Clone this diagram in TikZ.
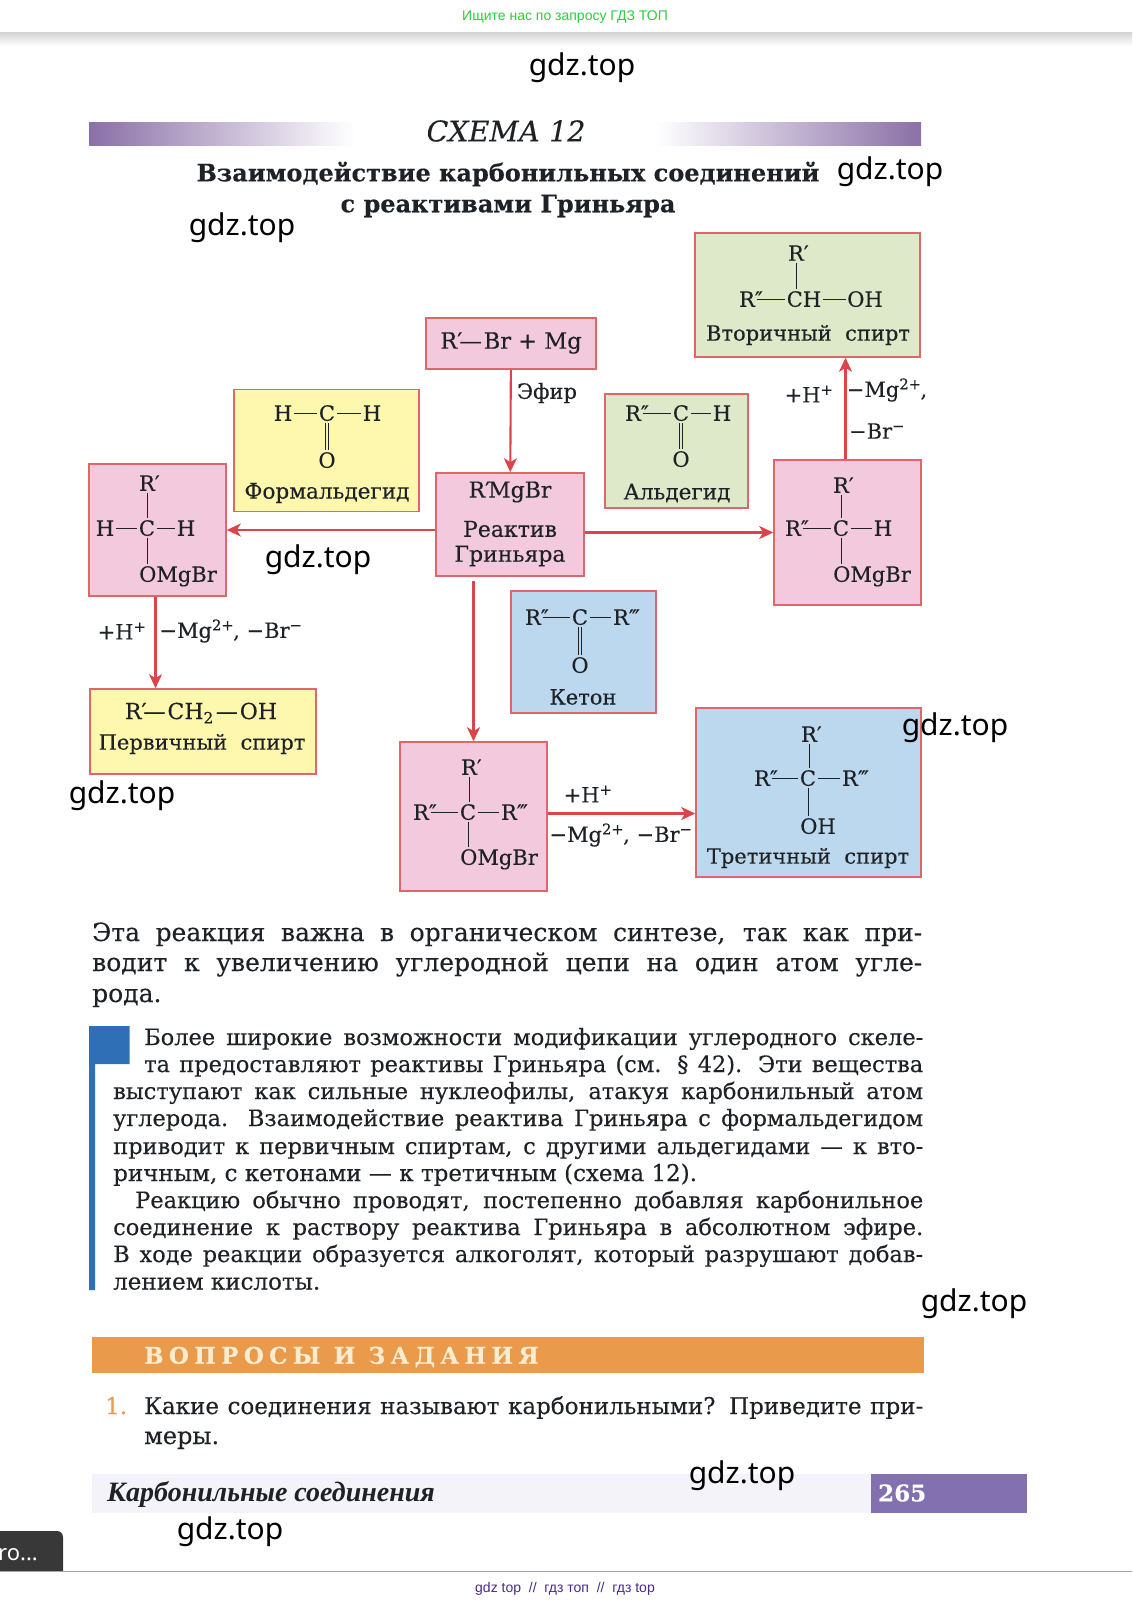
\documentclass[tikz,border=0pt]{standalone}
\usepackage{fontspec}
\setmainfont{DejaVu Serif}[FakeBold=0.25]
\newfontfamily\gdzfont{Noto Sans}
\newfontfamily\webfont{Liberation Sans}
\newfontfamily\chapfont{Liberation Serif}
\usetikzlibrary{arrows.meta}
\definecolor{pinkbox}{HTML}{F2C9DD}
\definecolor{yellowbox}{HTML}{FDF8AE}
\definecolor{greenbox}{HTML}{DDE9C9}
\definecolor{bluebox}{HTML}{BCD8EE}
\definecolor{edgered}{HTML}{E0666C}
\definecolor{arrowred}{HTML}{DD4449}
\definecolor{ink}{HTML}{1E2226}
\definecolor{barpurple}{HTML}{8A70A6}
\definecolor{pagepurple}{HTML}{8270B0}
\definecolor{noteblue}{HTML}{2F6FB5}
\definecolor{taskorange}{HTML}{E99A4A}
\definecolor{taskcream}{HTML}{FBECCF}
\definecolor{stripgray}{HTML}{F4F3F9}
\newcommand{\pxfont}[1]{\fontsize{#1}{#1}\selectfont}
\newcommand{\Ra}{R\rlap{′}}
\newcommand{\Rb}{R\rlap{″}}
\newcommand{\Rc}{R\rlap{‴}}
\newcommand{\dsh}{\kern2pt—\kern2pt}
\begin{document}
\begin{tikzpicture}[
  x=1pt,y=-1pt,
  box/.style={draw=edgered,line width=1.6pt,inner sep=0pt},
  atom/.style={inner xsep=1.5pt,inner ysep=2pt,text=ink,font=\pxfont{21},text height=15.5pt,text depth=0pt},
  captext/.style={inner sep=0pt,text=ink,font=\pxfont{21}},
  bond/.style={draw=ink,line width=0.9pt},
  arrow/.style={draw=arrowred,line width=2.1pt,-{Stealth[length=14pt,width=13pt,inset=4pt]}},
  para/.style={anchor=base west,inner sep=0pt,text=ink},
  gdzmark/.style={inner sep=0pt,font=\gdzfont\pxfont{30}}
]
  \useasboundingbox (0,0) rectangle (1132,1605);
  \fill[white] (0,0) rectangle (1132,1605);

  % page frame of the site
  \shade[top color=black!16,bottom color=white] (0,33) rectangle (1132,46);
  \node[inner sep=0pt,text={rgb,255:red,46;green,204;blue,64},font=\webfont\pxfont{14}] (head) at (565,17) {Ищите нас по запросу ГДЗ ТОП};
  \fill[black!78] (0,1531) [rounded corners=6pt] -- (63,1531) [sharp corners] -- (63,1571) -- (0,1571) -- cycle;
  \node[anchor=east,inner sep=0pt,text=white,font=\gdzfont\pxfont{22}] (hint) at (38,1555) {ro...};
  \draw[black!35,line width=1pt] (0,1571) -- (1132,1571);
  \node[inner sep=0pt,text={rgb,255:red,75;green,42;blue,138},font=\webfont\pxfont{14}] (foot) at (565,1589) {gdz top\ \ //\ \ гдз топ\ \ //\ \ гдз top};

  % heading
  \shade[left color=barpurple,right color=white] (89,123) rectangle (354,146);
  \shade[left color=white,right color=barpurple] (656,123) rectangle (921,146);
  \node[inner sep=0pt,text=ink,font=\pxfont{28.5}\itshape] (schema) at (506,131) {СХЕМА 12};
  \node[inner sep=0pt,text=ink,font=\pxfont{24}\bfseries] (titlea) at (508,174) {Взаимодействие карбонильных соединений};
  \node[inner sep=0pt,text=ink,font=\pxfont{24}\bfseries] (titleb) at (508,206) {с реактивами Гриньяра};

  % boxes
  \foreach \n/\x/\y/\w/\h/\c in {
    sec/807.5/295/225/124/greenbox, brmg/511/343.5/170/51/pinkbox,
    form/326.5/450.5/185/122/yellowbox, ald/676.5/451/143/114/greenbox,
    reagent/510/524.5/148/103/pinkbox, lp/157.5/530/137/132/pinkbox,
    rp/847.5/532.5/147/145/pinkbox, ket/583.5/652/145/122/bluebox,
    prim/203/731.5/226/85/yellowbox, bp/473.5/816.5/147/149/pinkbox,
    ter/808.5/792.5/225/169/bluebox}
    \node[box,fill=\c,minimum width=\w pt,minimum height=\h pt] (\n) at (\x,\y) {};

  % atoms of the formulas
  \foreach \n/\x/\y/\t in {
    sa/796/253/\Ra, sb/747/299/\Rb, sc/804/299/CH, sd/865/299/OH,
    fa/283/413/H, fb/327/413/C, fc/372/413/H, fd/327/460/O,
    aa/633/413/\Rb, ab/681/413/C, ac/722/413/H, ad/681/459/O,
    la/147/483/\Ra, lb/105/528/H, lc/147/528/C, ld/186/528/H, le/178/574/OMgBr,
    ra/841/485/\Ra, rb/793/528/\Rb, rc/841/528/C, rd/883/528/H, re/872/574/OMgBr,
    ka/533/617/\Rb, kb/580/617/C, kc/621/617/\Rc, kd/580/665/O,
    ba/469/767/\Ra, bb/421/812/\Rb, bc/468/812/C, bd/509/812/\Rc, be/499/857/OMgBr,
    ta/809/734/\Ra, tb/762/778/\Rb, tc/808/778/C, td/850/778/\Rc, te/818/826/OH}
    \node[atom] (\n) at (\x,\y) {\t};
  \foreach \a/\b in {sb/sc,sc/sd,fa/fb,fb/fc,aa/ab,ab/ac,lb/lc,lc/ld,rb/rc,rc/rd,ka/kb,kb/kc,bb/bc,bc/bd,tb/tc,tc/td}
    \draw[bond] (\a.east) -- (\b.west);
  \foreach \a/\b in {sa/sc,la/lc,lc/le,ra/rc,rc/re,ba/bc,bc/be,ta/tc,tc/te}
    \draw[bond] (\a.south) -- (\a.south |- \b.north);
  \foreach \a/\b in {fb/fd,ab/ad,kb/kd}
    \foreach \s in {-1.8,1.8}
      \draw[bond] ([xshift=\s pt]\a.south) -- ([xshift=\s pt]\b.north);

  % names in the boxes
  \foreach \n/\x/\y/\t in {
    secname/808/335/Вторичный\ \ спирт, brmgname/511/343/\pxfont{22.5}\Ra\dsh Br + Mg,
    formname/327/493/\pxfont{21.6}Формальдегид, aldname/677/493/\pxfont{21.6}Альдегид,
    reagenta/510/492/\pxfont{22}R\rlap{′}\kern3pt MgBr, reagentb/510/529/\pxfont{22}Реактив, reagentc/510/556/\pxfont{22}Гриньяра,
    ketname/583/697/Кетон, primf/201/713/\pxfont{22}\Ra\dsh CH\textsubscript{2}\dsh OH, primname/202/744/Первичный\ \ спирт,
    tername/808/858/Третичный\ \ спирт}
    \node[captext] (\n) at (\x,\y) {\t};

  % reactions
  \draw[arrow] (brmg) -- (reagent);
  \draw[arrow] (lp.east -| reagent.west) -- (lp.east);
  \draw[arrow] (rp.west -| reagent.east) -- (rp.west);
  \draw[arrow,shorten <=4pt] (bp.north |- reagent.south) -- (bp.north);
  \draw[arrow] ([xshift=-2pt]rp.north) -- ([xshift=-2pt]rp.north |- sec.south);
  \draw[arrow] ([xshift=-2pt]lp.south) -- ([xshift=-2pt]lp.south |- prim.north);
  \draw[arrow] ([yshift=3pt]bp.east) -- ([yshift=3pt]bp.east -| ter.west);
  \foreach \n/\x/\y/\t in {
    ether/547/393/Эфир, ha/122/631/+H\textsuperscript{+},
    lossa/231/631/{−Mg\textsuperscript{2+}\kern-1pt, −Br\textsuperscript{−}},
    hb/809/394/+H\textsuperscript{+}, lossb/887/390/{−Mg\textsuperscript{2+}\kern-1pt,}, lossc/877/431/−Br\textsuperscript{−},
    hc/588/794/+H\textsuperscript{+}, lossd/621/835/{−Mg\textsuperscript{2+}\kern-1pt, −Br\textsuperscript{−}}}
    \node[captext] (\n) at (\x,\y) {\t};

  % text of the page
  \foreach \n/\x/\y/\w/\s/\t in {
    pa/92/941/830/25/{Эта реакция важна в органическом синтезе, так как при-},
    pb/92/971/830/25/{водит к увеличению углеродной цепи на один атом угле-},
    qa/144/1045/779/22.5/{Более широкие возможности модификации углеродного скеле-},
    qb/144/1072/779/22.5/{та предоставляют реактивы Гриньяра (см. § 42). Эти вещества},
    qc/113/1099/810/22.5/{выступают как сильные нуклеофилы, атакуя карбонильный атом},
    qd/113/1126/810/22.5/{углерода. Взаимодействие реактива Гриньяра с формальдегидом},
    qe/113/1154/810/22.5/{приводит к первичным спиртам, с другими альдегидами — к вто-},
    qg/135/1208/788/22.5/{Реакцию обычно проводят, постепенно добавляя карбонильное},
    qh/113/1235/810/22.5/{соединение к раствору реактива Гриньяра в абсолютном эфире.},
    qi/113/1262/810/22.5/{В ходе реакции образуется алкоголят, который разрушают добав-},
    ua/144/1414/779/23/{Какие соединения называют карбонильными? Приведите при-}}
    \node[para,font=\pxfont{\s}] (\n) at (\x,\y) {\makebox[\w pt][s]{\t}};
  \foreach \n/\x/\y/\s/\t in {
    pc/92/1002/25/рода., qf/113/1181/23/{ричным, с кетонами — к третичным (схема 12).},
    qj/113/1289.5/23/лением кислоты., ub/144/1444/24/меры.}
    \node[para,font=\pxfont{\s}] (\n) at (\x,\y) {\t};
  \fill[noteblue] (89,1026) -- (129.5,1026) -- (129.5,1064) -- (95,1064) -- (95,1290) -- (89,1290) -- cycle;

  % questions
  \fill[taskorange] (92,1337) rectangle (923.5,1373);
  \node[anchor=west,inner sep=0pt,text=taskcream,font=\pxfont{23}\bfseries\addfontfeature{LetterSpace=23}] (tasks) at (144,1357) {ВОПРОСЫ И ЗАДАНИЯ};
  \node[para,text=taskorange,font=\pxfont{23}] (num) at (105,1414) {1.};

  % footer of the page
  \fill[stripgray] (92,1474) rectangle (871,1513);
  \fill[pagepurple] (871,1474) rectangle (1027,1513);
  \node[anchor=west,inner sep=0pt,text=ink,font=\chapfont\pxfont{28}\bfseries\itshape] (chapter) at (107,1494) {Карбонильные соединения};
  \node[anchor=west,inner sep=0pt,text=white,font=\pxfont{23}\bfseries] (pagenum) at (878,1493) {265};

  % marks over the page
  \foreach \n/\x/\y in {ga/582/68,gb/890/172,gc/242/228,gd/318/560,ge/955/728,gf/122/796,gg/974/1304,gh/742/1476,gi/230/1532}
    \node[gdzmark] (\n) at (\x,\y) {gdz.top};
\end{tikzpicture}
\end{document}
